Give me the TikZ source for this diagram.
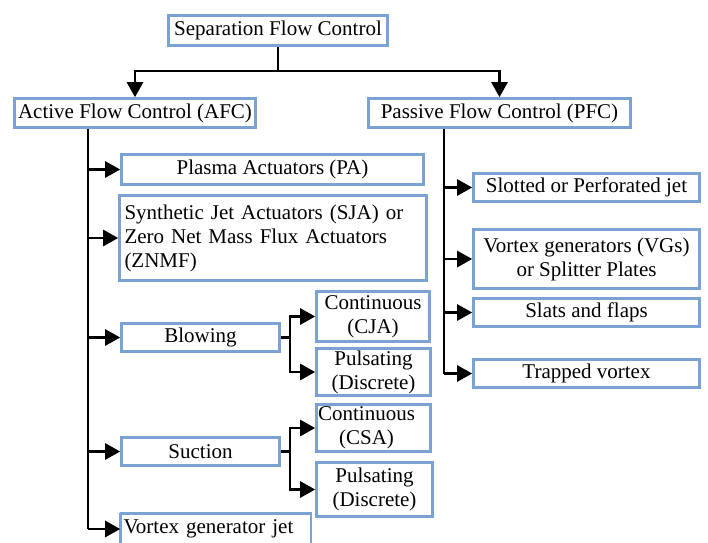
\documentclass[tikz,border=0pt]{standalone}
\usepackage{fontspec}
\setmainfont{Liberation Serif}
\usetikzlibrary{arrows.meta}
\definecolor{bx}{RGB}{122,163,212}
\begin{document}
\begin{tikzpicture}[x=1pt,y=-1pt,
  box/.style={draw=bx,line width=2.6pt,inner sep=1pt,font=\fontsize{21}{24}\selectfont,align=center},
  conn/.style={line width=2.6pt,-{Triangle[length=15pt,width=16pt]}},
  ln/.style={line width=2.6pt}]
\useasboundingbox (0,0) rectangle (708,542);
\fill[white] (0,0) rectangle (708,542);
% top level
\node[box,minimum width=219pt,minimum height=30pt] (top) at (278,30.5) {Separation Flow Control};
\node[box,minimum width=241pt,minimum height=29pt] (afc) at (135,113) {Active Flow Control (AFC)};
\node[box,minimum width=262pt,minimum height=29pt] (pfc) at (499.5,113) {Passive Flow Control (PFC)};
% active branch
\node[box,minimum width=302pt,minimum height=30pt] (pa) at (272.5,169.5) {Plasma Actuators (PA)};
\node[box,minimum width=307pt,minimum height=85pt,inner sep=4pt,text width=297pt,align=left] (sja) at (273,238)
  {Synthetic Jet Actuators (SJA) or\\Zero Net Mass Flux Actuators\\(ZNMF)};
\node[box,minimum width=158pt,minimum height=28pt] (blow) at (200.5,337.5) {Blowing};
\node[box,minimum width=113pt,minimum height=50pt] (cja) at (373,316.5) {Continuous\\(CJA)};
\node[box,minimum width=114pt,minimum height=47pt] (pb1) at (373.5,372) {Pulsating\\(Discrete)};
\node[box,minimum width=158pt,minimum height=28pt] (suc) at (200.5,451.5) {Suction};
\node[box,minimum width=114pt,minimum height=47pt] (csa) at (373.5,428) {Continuous\hspace*{14pt}\\(CSA)\hspace*{14pt}};
\node[box,minimum width=116pt,minimum height=54pt] (pb2) at (374.5,489.5) {Pulsating\\(Discrete)};
\node[box,draw=none,minimum width=188pt,minimum height=29pt,text width=184pt,align=left] (vgj) at (215.5,529) {Vortex generator jet};
\draw[draw=bx,line width=2.6pt] (vgj.north west) -- (vgj.west |- 0,570) (vgj.north west) -- (vgj.north east) -- (vgj.east |- 0,570);
% passive branch
\node[box,minimum width=226pt,minimum height=28pt] (slot) at (586.5,187.5) {Slotted or Perforated jet};
\node[box,minimum width=226pt,minimum height=59pt] (vg) at (586.5,259) {Vortex generators (VGs)\\or Splitter Plates};
\node[box,minimum width=226pt,minimum height=28pt] (slat) at (586.5,312.5) {Slats and flaps};
\node[box,minimum width=226pt,minimum height=28pt] (trap) at (586.5,373.5) {Trapped vortex};
% connectors: top
\draw[ln] (top.south) -- (278,71) coordinate (tj);
\draw[conn] (tj) -| (afc.north);
\draw[conn] (tj) -| (pfc.north);
% active
\coordinate (av) at (88,0);
\draw[ln] (av |- afc.south) -- (av |- vgj.west);
\foreach \n in {pa,sja,blow,suc,vgj} \draw[conn] (av |- \n.west) -- (\n.west);
\draw[ln] (blow.east) -- (290,337.5) coordinate (bj);
\draw[conn] (bj) |- (cja.west);
\draw[conn] (bj) |- (pb1.west);
\draw[ln] (suc.east) -- (290,451.5) coordinate (sj);
\draw[conn] (sj) |- (csa.west);
\draw[conn] (sj) |- (pb2.west);
% passive
\coordinate (pv) at (444,0);
\draw[ln] (pv |- pfc.south) -- (pv |- trap.west);
\foreach \n in {slot,vg,slat,trap} \draw[conn] (pv |- \n.west) -- (\n.west);
\end{tikzpicture}
\end{document}
